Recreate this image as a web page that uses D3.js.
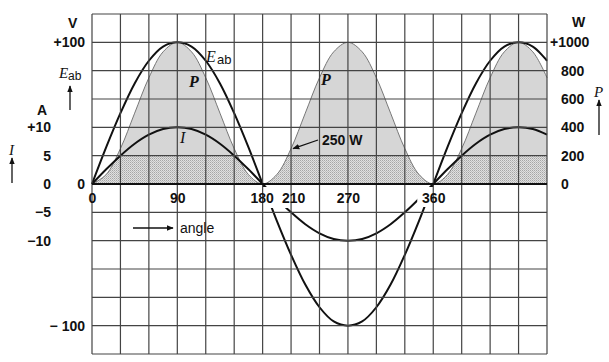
<!DOCTYPE html>
<html>
<head>
<meta charset="utf-8">
<script src="https://d3js.org/d3.v7.min.js"></script>
<style>
  body { margin: 0; background: #fff; }
  svg { font-family: "Liberation Sans", Arial, sans-serif; }
  .tick text { font-weight: bold; font-size: 14px; fill: #111; }
  .grid line { stroke: #444; stroke-width: 1.2; }
</style>
</head>
<body>
<div id="chart"></div>
<script>
// values, every 15 degrees
var angles = [0,15,30,45,60,75,90,105,120,135,150,165,180,195,210,225,240,255,270,285,300,315,330,345,360,375,390,405,420,435,450,465,480];
var eab = [0,26,50,71,87,97,100,97,87,71,50,26,0,-26,-50,-71,-87,-97,-100,-97,-87,-71,-50,-26,0,26,50,71,87,97,100,97,87];
var amps = [0,2.6,5,7.1,8.7,9.7,10,9.7,8.7,7.1,5,2.6,0,-2.6,-5,-7.1,-8.7,-9.7,-10,-9.7,-8.7,-7.1,-5,-2.6,0,2.6,5,7.1,8.7,9.7,10,9.7,8.7];
var watts = [0,67,250,500,750,933,1000,933,750,500,250,67,0,67,250,500,750,933,1000,933,750,500,250,67,0,67,250,500,750,933,1000,933,750];

var angleTicks = [0,90,180,210,270,360];
var voltTicks = [100,0,-100];
var ampTicks = [10,5,0,-5,-10];
var wattTicks = [1000,800,600,400,200,0];

var width = 609, height = 362;
var plotL = 92, plotR = 547, plotT = 14, plotB = 354;

var x = d3.scaleLinear().domain([0,480]).range([plotL,plotR]);
var yV = d3.scaleLinear().domain([-120,120]).range([plotB,plotT]);
var yA = d3.scaleLinear().domain([-30,30]).range([plotB,plotT]);
var yW = d3.scaleLinear().domain([-1200,1200]).range([plotB,plotT]);

var svg = d3.select("#chart").append("svg")
    .attr("width", width)
    .attr("height", height);

var defs = svg.append("defs");
defs.append("marker")
    .attr("id","head")
    .attr("viewBox","0 0 10 10")
    .attr("refX",9).attr("refY",5)
    .attr("markerWidth",7).attr("markerHeight",7)
    .attr("markerUnits","userSpaceOnUse")
    .attr("orient","auto")
  .append("path")
    .attr("d","M0,1 L10,5 L0,9 Z")
    .attr("fill","#111");

// stipple for the lowest band of the shading
var pat = defs.append("pattern")
    .attr("id","stipple")
    .attr("width",2).attr("height",2)
    .attr("patternUnits","userSpaceOnUse");
pat.append("rect").attr("width",2).attr("height",2).attr("fill","#e0e0e0");
pat.append("rect").attr("width",1).attr("height",1).attr("fill","#a6a6a6");
pat.append("rect").attr("x",1).attr("y",1).attr("width",1).attr("height",1).attr("fill","#bebebe");

defs.append("clipPath").attr("id","band")
  .append("rect")
    .attr("x", plotL).attr("y", yW(200))
    .attr("width", plotR - plotL).attr("height", yW(0) - yW(200));

// shaded power area
var pArea = d3.area()
    .x(function(d,i){ return x(angles[i]); })
    .y0(yW(0))
    .y1(function(d){ return yW(d); })
    .curve(d3.curveCatmullRom);

svg.append("path")
    .datum(watts)
    .attr("d", pArea)
    .attr("fill", "#d6d6d6");

svg.append("path")
    .datum(watts)
    .attr("d", pArea)
    .attr("clip-path","url(#band)")
    .attr("fill", "url(#stipple)");

var pLine = d3.line()
    .x(function(d,i){ return x(angles[i]); })
    .y(function(d){ return yW(d); })
    .curve(d3.curveCatmullRom);

svg.append("path")
    .datum(watts)
    .attr("d", pLine)
    .attr("fill","none")
    .attr("stroke","#777")
    .attr("stroke-width",1);

// voltage and current
function wave(scale) {
  return d3.line()
    .x(function(d,i){ return x(angles[i]); })
    .y(function(d){ return scale(d); })
    .curve(d3.curveCatmullRom);
}

svg.append("path").datum(eab)
    .attr("d", wave(yV))
    .attr("fill","none").attr("stroke","#111").attr("stroke-width",2);

svg.append("path").datum(amps)
    .attr("d", wave(yA))
    .attr("fill","none").attr("stroke","#111").attr("stroke-width",2);

// white boxes behind the angle labels
svg.append("rect").attr("x", x(180)-12).attr("y", yV(0)+3).attr("width", 56).attr("height", 21).attr("fill","#fff");
svg.append("rect").attr("x", x(360)-16).attr("y", yV(0)+3).attr("width", 30).attr("height", 20).attr("fill","#fff");

// grid
var grid = svg.append("g").attr("class","grid");
grid.selectAll(".v").data(d3.range(0,481,30)).enter().append("line")
    .attr("x1", function(d){ return x(d); }).attr("x2", function(d){ return x(d); })
    .attr("y1", plotT).attr("y2", plotB);
grid.selectAll(".h").data(d3.range(-120,121,20)).enter().append("line")
    .attr("x1", plotL).attr("x2", plotR)
    .attr("y1", function(d){ return yV(d); }).attr("y2", function(d){ return yV(d); });

svg.append("line")
    .attr("x1", plotL).attr("x2", plotR)
    .attr("y1", yV(0)).attr("y2", yV(0))
    .attr("stroke","#111").attr("stroke-width",2.2);

// axes
svg.append("g")
    .attr("transform","translate(" + plotL + ",0)")
    .call(d3.axisLeft(yV).tickValues(voltTicks).tickSize(0).tickPadding(7)
      .tickFormat(function(d){ return d > 0 ? "+" + d : d < 0 ? "\u2212 " + (-d) : d; }))
    .call(function(g){ g.select(".domain").remove(); });

svg.append("g")
    .attr("transform","translate(51,0)")
    .call(d3.axisLeft(yA).tickValues(ampTicks).tickSize(0).tickPadding(0)
      .tickFormat(function(d){ return d == 10 ? "+" + d : d < 0 ? "\u2212" + (-d) : d; }))
    .call(function(g){ g.select(".domain").remove(); });

svg.append("g")
    .attr("transform","translate(561,0)")
    .call(d3.axisRight(yW).tickValues(wattTicks).tickSize(0).tickPadding(0)
      .tickFormat(function(d){ return d == 1000 ? "+" + d : d; }))
    .call(function(g){
      g.select(".domain").remove();
      g.selectAll(".tick text").filter(function(d){ return d == 1000; }).attr("dx", -11);
    });

svg.append("g")
    .attr("transform","translate(0," + (yV(0)+9) + ")")
    .call(d3.axisBottom(x).tickValues(angleTicks).tickSize(0).tickPadding(0))
    .call(function(g){
      g.select(".domain").remove();
      g.selectAll(".tick text").attr("dx", function(d){ return d == 180 ? -1 : d == 210 ? 2 : 0; });
    });

// unit labels
function label(tx, ty, txt, opts) {
  opts = opts || {};
  return svg.append("text")
    .attr("x", tx).attr("y", ty)
    .attr("font-size", opts.size || 14)
    .attr("font-weight", opts.weight || "bold")
    .attr("font-style", opts.style || "normal")
    .attr("font-family", opts.family || null)
    .attr("text-anchor", opts.anchor || "start")
    .attr("fill","#111")
    .text(txt);
}
label(68, 28, "V");
label(37, 115, "A");
label(572, 27, "W");

var serif = "'Liberation Serif', 'DejaVu Serif', serif";

// E_ab on the left, with arrow
label(59, 78, "E", {weight:"normal", style:"italic", family:serif, size:15});
label(68, 80, "ab", {weight:"normal", size:12});
arrow(70, 110, 70, 86);

label(9, 155, "I", {weight:"normal", style:"italic", family:serif, size:15});
arrow(12, 183, 12, 158);

label(594, 97, "P", {weight:"normal", style:"italic", family:serif, size:15});
arrow(599, 135, 599, 100);

// curve names
label(206, 62, "E", {weight:"normal", style:"italic", family:serif, size:16});
label(217, 64, "ab", {weight:"normal", size:13});
label(189, 87, "P", {weight:"bold", style:"italic", family:serif, size:16});
label(321, 85, "P", {weight:"bold", style:"italic", family:serif, size:16});
label(180, 143, "I", {weight:"normal", style:"italic", family:serif, size:16});

// annotations
label(322, 145, "250 W");
arrow(318, 140, x(210)+2, yW(250));

arrow(133, 228, 173, 228);
label(180, 233, "angle", {weight:"normal"});

function arrow(x1, y1, x2, y2) {
  svg.append("line")
    .attr("x1", x1).attr("y1", y1).attr("x2", x2).attr("y2", y2)
    .attr("stroke","#111").attr("stroke-width",1.3)
    .attr("marker-end","url(#head)");
}
</script>
</body>
</html>
